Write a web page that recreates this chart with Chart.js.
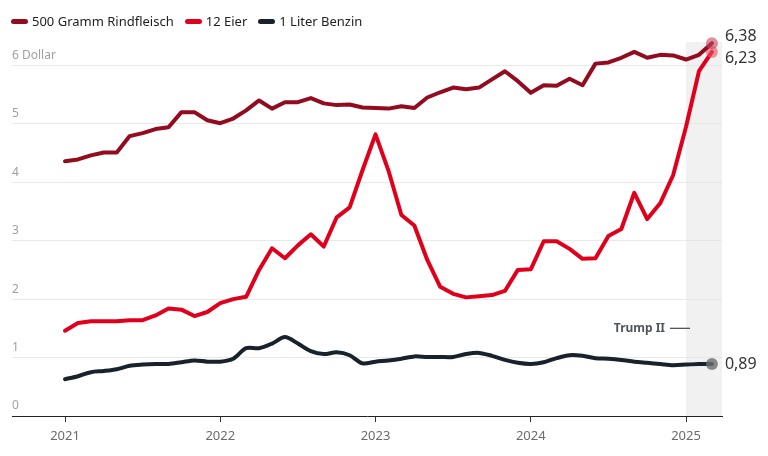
<!DOCTYPE html>
<html>
<head>
<meta charset="utf-8">
<script src="https://cdn.jsdelivr.net/npm/chart.js@4"></script>
<style>
  html, body { margin: 0; padding: 0; background: #fff; }
  #wrap { position: relative; width: 768px; height: 456px; }
  #legend { position: absolute; left: 11px; top: 12px; display: flex; font: 13px "Noto Sans", sans-serif; color: #222; }
  .item { display: flex; align-items: center; margin-right: 11px; }
  .mark { width: 17px; height: 5px; border-radius: 3px; margin-right: 4px; }
</style>
</head>
<body>
<div id="wrap">
  <div id="legend"></div>
  <canvas id="myChart"></canvas>
</div>
<script>
// Monatswerte Jan 2021 bis Mrz 2025 (Index 0 = Jan 2021)
const startYear = 2021;
const monthCount = 51;
const yearTicks = [2021, 2022, 2023, 2024, 2025];
const yTicks = [0, 1, 2, 3, 4, 5, 6];
const trumpStart = 48; // Jan 2025

const beef = [4.36, 4.39, 4.46, 4.51, 4.51, 4.79, 4.84, 4.91, 4.94, 5.20, 5.20, 5.06, 5.01, 5.09, 5.23, 5.40, 5.26, 5.37,
              5.37, 5.44, 5.35, 5.32, 5.33, 5.28, 5.27, 5.26, 5.30, 5.27, 5.45, 5.54, 5.62, 5.59, 5.62, 5.76, 5.90, 5.73,
              5.53, 5.66, 5.65, 5.77, 5.66, 6.03, 6.05, 6.13, 6.23, 6.13, 6.18, 6.17, 6.10, 6.18, 6.38];
const eggs = [1.46, 1.59, 1.62, 1.62, 1.62, 1.64, 1.64, 1.72, 1.84, 1.82, 1.71, 1.78, 1.93, 2.00, 2.04, 2.50, 2.87, 2.70,
              2.92, 3.11, 2.90, 3.40, 3.57, 4.21, 4.82, 4.20, 3.44, 3.26, 2.67, 2.21, 2.09, 2.03, 2.05, 2.07, 2.14, 2.50,
              2.51, 2.99, 2.99, 2.86, 2.69, 2.70, 3.08, 3.20, 3.82, 3.37, 3.64, 4.12, 4.95, 5.90, 6.23];
const gas = [0.63, 0.68, 0.75, 0.77, 0.80, 0.86, 0.88, 0.89, 0.89, 0.92, 0.95, 0.93, 0.93, 0.98, 1.16, 1.16, 1.24, 1.35,
             1.24, 1.11, 1.06, 1.09, 1.04, 0.90, 0.93, 0.95, 0.98, 1.02, 1.01, 1.01, 1.01, 1.06, 1.08, 1.03, 0.96, 0.91,
             0.89, 0.92, 0.99, 1.04, 1.03, 0.99, 0.98, 0.96, 0.93, 0.91, 0.89, 0.87, 0.88, 0.89, 0.89];

const series = [
    { label: '500 Gramm Rindfleisch', values: beef, color: '#930b1f', dot: 'rgba(200,70,90,0.6)', offset: -7, tension: 0 },
    { label: '12 Eier', values: eggs, color: '#e1001c', dot: 'rgba(235,80,100,0.6)', offset: 7, tension: 0 },
    { label: '1 Liter Benzin', values: gas, color: '#17222c', dot: 'rgba(110,110,110,0.8)', offset: 0, tension: 0.3 }
];

// Legende
var legend = document.getElementById('legend');
series.forEach(s => {
    legend.innerHTML += '<div class="item"><span class="mark" style="background:' + s.color + '"></span>' + s.label + '</div>';
});

const lastIdx = monthCount - 1;

const extras = {
    id: 'extras',
    beforeDatasetsDraw(chart) {
        const { ctx, chartArea, scales } = chart;
        const x0 = scales.x.getPixelForValue(trumpStart);
        ctx.save();
        ctx.fillStyle = 'rgba(228,228,228,0.5)';
        ctx.fillRect(x0, chartArea.top, chartArea.right - x0, chartArea.bottom - chartArea.top);

        // Trump II
        const ty = scales.y.getPixelForValue(1.5);
        ctx.font = 'bold 12px "Noto Sans", sans-serif';
        ctx.fillStyle = '#4f575e';
        ctx.textAlign = 'right';
        ctx.textBaseline = 'middle';
        ctx.fillText('Trump II', x0 - 21, ty);
        ctx.strokeStyle = '#4f575e';
        ctx.lineWidth = 1.3;
        ctx.beginPath();
        ctx.moveTo(x0 - 16, ty);
        ctx.lineTo(x0 + 4, ty);
        ctx.stroke();
        ctx.restore();
    },
    afterDatasetsDraw(chart) {
        const { ctx, scales } = chart;
        ctx.save();
        ctx.font = '16px "Noto Sans", sans-serif';
        ctx.fillStyle = '#333';
        ctx.textAlign = 'left';
        ctx.textBaseline = 'middle';
        series.forEach(s => {
            const v = s.values[lastIdx];
            const px = scales.x.getPixelForValue(lastIdx);
            const py = scales.y.getPixelForValue(v);
            ctx.fillText(v.toFixed(2).replace('.', ','), px + 13, py + s.offset);
        });
        ctx.restore();
    }
};

var ctx = document.getElementById('myChart');

new Chart(ctx, {
    type: 'line',
    data: {
        datasets: series.map(s => ({
            label: s.label,
            data: s.values.map((v, i) => ({ x: i, y: v })),
            borderColor: s.color,
            borderWidth: 4,
            borderJoinStyle: 'round',
            borderCapStyle: 'round',
            tension: s.tension,
            clip: false,
            pointRadius: s.values.map((v, i) => i === lastIdx ? 6 : 0),
            pointHoverRadius: 0,
            pointBackgroundColor: s.dot,
            pointBorderWidth: 0
        }))
    },
    options: {
        responsive: true,
        maintainAspectRatio: false,
        animation: false,
        layout: { padding: { top: 42, left: 12, right: 46, bottom: 0 } },
        plugins: {
            legend: { display: false },
            tooltip: { enabled: false }
        },
        scales: {
            x: {
                type: 'linear',
                min: -4.097,
                max: 50.78,
                afterBuildTicks: (scale) => {
                    scale.ticks = yearTicks.map(y => ({ value: (y - startYear) * 12 }));
                },
                afterFit: (scale) => { scale.height = 40; },
                grid: { drawOnChartArea: false, drawTicks: true, tickLength: 6, color: '#333' },
                border: { display: true, color: '#222', width: 1 },
                ticks: {
                    padding: 6,
                    color: '#6b6b6b',
                    font: { family: 'Noto Sans', size: 13 },
                    callback: (value) => String(startYear + value / 12)
                }
            },
            y: {
                min: 0,
                max: 6.4,
                afterBuildTicks: (scale) => {
                    scale.ticks = yTicks.map(v => ({ value: v }));
                },
                afterFit: (scale) => { scale.width = 0; },
                border: { display: false },
                grid: {
                    drawTicks: false,
                    color: (c) => c.tick && c.tick.value === 0 ? 'rgba(0,0,0,0)' : '#e9e9e9',
                    lineWidth: 1
                },
                ticks: {
                    mirror: true,
                    padding: 0,
                    labelOffset: -10,
                    color: '#a0a0a0',
                    font: { family: 'Noto Sans', size: 12 },
                    callback: (value) => value === 6 ? '6 Dollar' : String(value)
                }
            }
        }
    },
    plugins: [extras]
});
</script>
</body>
</html>
